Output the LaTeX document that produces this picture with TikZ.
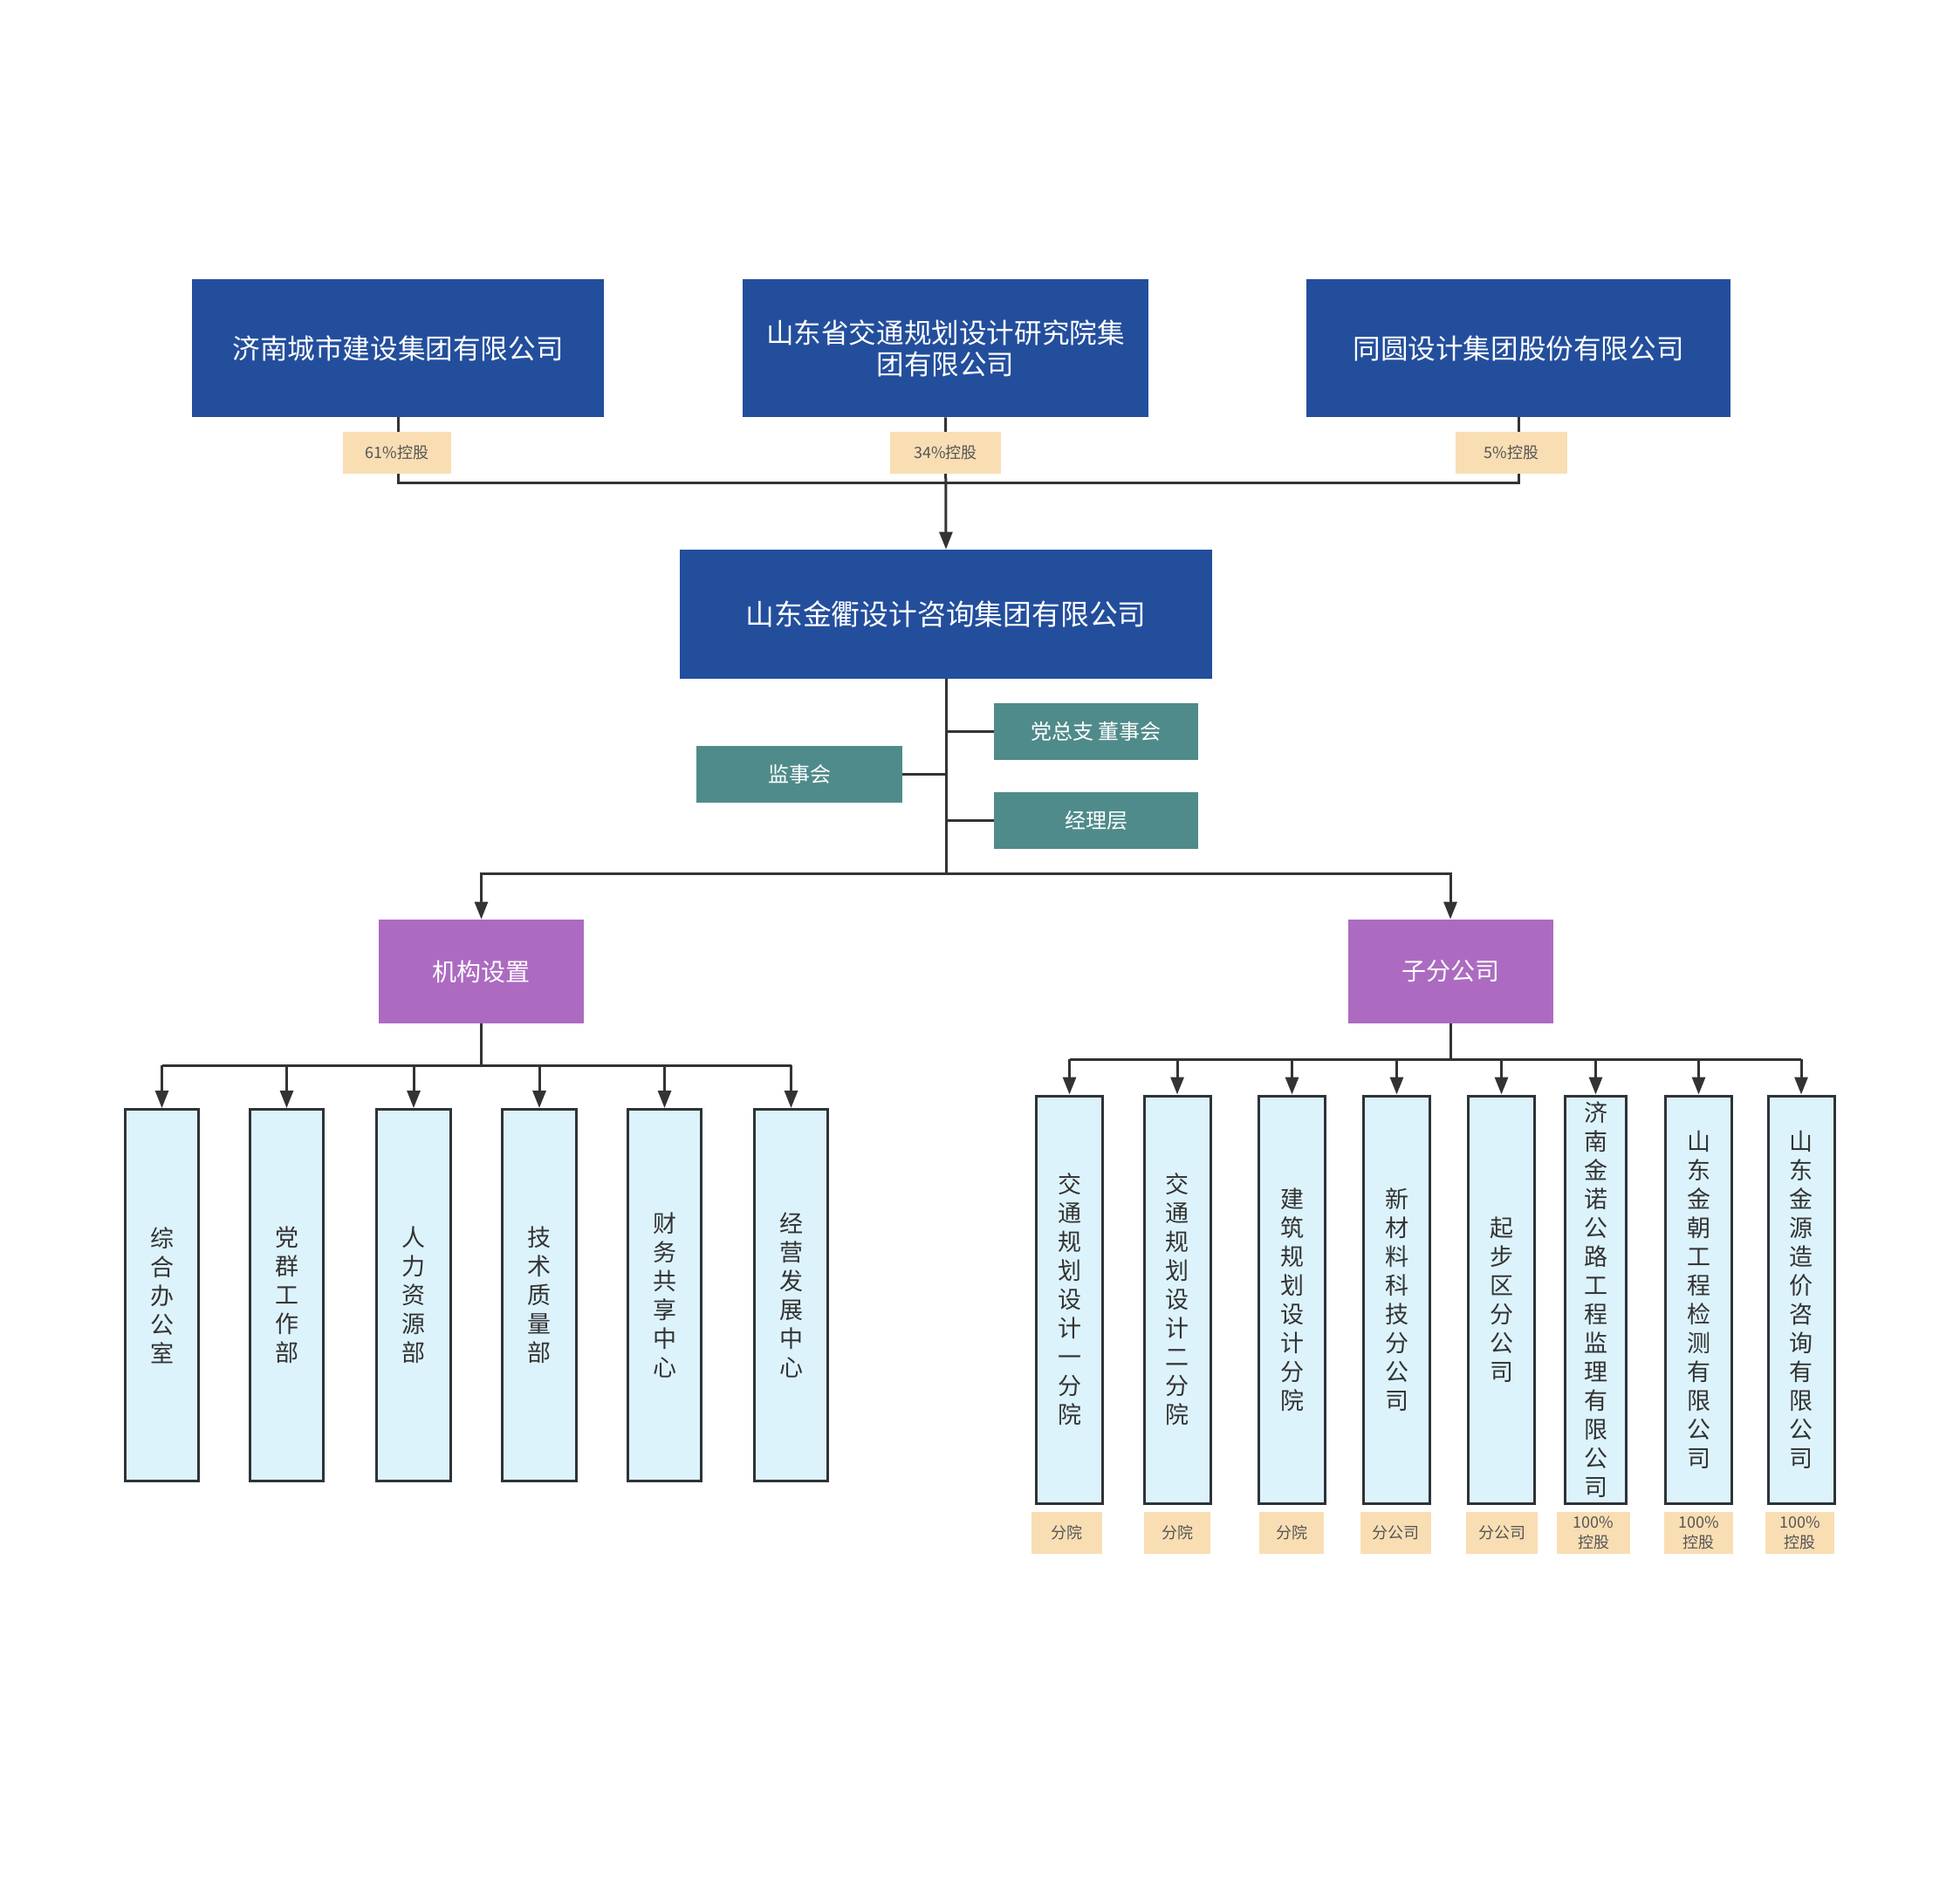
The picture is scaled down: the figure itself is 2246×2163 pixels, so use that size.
\documentclass[tikz,border=0pt]{standalone}
\usepackage{fontspec}
\setmainfont{Noto Sans CJK SC}
\usetikzlibrary{arrows.meta}
\definecolor{hdblue}{HTML}{234E9C}
\definecolor{tealbox}{HTML}{4F8B8A}
\definecolor{purpbox}{HTML}{AC6BC1}
\definecolor{colfill}{HTML}{DDF3FC}
\definecolor{colline}{HTML}{2E3338}
\definecolor{tagfill}{HTML}{F9DEB4}
\definecolor{connline}{HTML}{333333}
\definecolor{tagtext}{HTML}{555555}
\begin{document}
\begin{tikzpicture}[x=0.5pt,y=-0.5pt,
  topbox/.style={fill=hdblue, text=white, inner sep=0pt, align=center, minimum height=79pt, font=\fontsize{15.8pt}{18pt}\selectfont},
  tealnode/.style={fill=tealbox, text=white, inner sep=0pt, minimum width=117pt, minimum height=32.5pt, font=\fontsize{12pt}{14pt}\selectfont},
  purpnode/.style={fill=purpbox, text=white, inner sep=0pt, minimum width=117.5pt, minimum height=59.5pt, font=\fontsize{14pt}{16pt}\selectfont},
  colbox/.style={fill=colfill, draw=colline, line width=1.5pt, inner sep=0pt, align=center, text=connline, font=\fontsize{13.5pt}{16.5pt}\selectfont},
  tag/.style={fill=tagfill, text=tagtext, inner sep=0pt, align=center, minimum height=24pt, font=\fontsize{9pt}{11.8pt}\selectfont},
  conn/.style={draw=connline, line width=1.5pt},
  arr/.style={-{Triangle[length=10pt,width=7.5pt]}}
]
\useasboundingbox (0,0) rectangle (2246,2163);

% top shareholders
\node[topbox, minimum width=236pt] (b1) at (456,399) {济南城市建设集团有限公司};
\node[topbox, minimum width=232.5pt] (b2) at (1083.5,399) {山东省交通规划设计研究院集\\团有限公司};
\node[topbox, minimum width=243pt] (b3) at (1740,399) {同圆设计集团股份有限公司};

% main company
\node[topbox, minimum width=305pt, minimum height=74pt, font=\fontsize{16.4pt}{18pt}\selectfont] (main) at (1084,704) {山东金衢设计咨询集团有限公司};

\coordinate (busT) at (1083.5,553);
\draw[conn] (b1.south) |- (busT);
\draw[conn] (b3.south) |- (busT);
\draw[conn, arr] (b2.south) -- (main.north);

\node[tag, minimum width=62pt] (l1) at (455,518.5) {61\%控股};
\node[tag, minimum width=63.5pt] (l2) at (1083.5,518.5) {34\%控股};
\node[tag, minimum width=64pt] (l3) at (1732,518.5) {5\%控股};

% governance
\node[tealnode] (t1) at (1256,838) {党总支 董事会};
\node[tealnode] (t2) at (1256,940.5) {经理层};
\node[tealnode, minimum width=118pt] (t3) at (916,887.5) {监事会};

\coordinate (busM) at (1084,1001);
\draw[conn] (main.south) -- (busM);
\draw[conn] (main.south |- t1.west) -- (t1.west);
\draw[conn] (main.south |- t2.west) -- (t2.west);
\draw[conn] (main.south |- t3.east) -- (t3.east);

% second level
\node[purpnode] (p1) at (551.5,1113.5) {机构设置};
\node[purpnode] (p2) at (1662,1113.5) {子分公司};
\draw[conn, arr] (busM) -| (p1.north);
\draw[conn, arr] (busM) -| (p2.north);

% departments
\begin{scope}[every node/.style={colbox, minimum width=42.3pt, minimum height=213pt}]
\node (c1) at (185.5,1484.5) {综\\合\\办\\公\\室};
\node (c2) at (328.5,1484.5) {党\\群\\工\\作\\部};
\node (c3) at (474,1484.5) {人\\力\\资\\源\\部};
\node (c4) at (618,1484.5) {技\\术\\质\\量\\部};
\node (c5) at (761.5,1484.5) {财\\务\\共\\享\\中\\心};
\node (c6) at (906.5,1484.5) {经\\营\\发\\展\\中\\心};
\end{scope}
\coordinate (busL) at (551.5,1221);
\draw[conn] (p1.south) -- (busL);
\draw[conn] (c1.north |- busL) -- (c6.north |- busL);
\foreach \c in {c1,c2,c3,c4,c5,c6}
  \draw[conn, arr] (\c.north |- busL) -- (\c.north);

% subsidiaries
\begin{scope}[every node/.style={colbox, minimum width=38pt, minimum height=233.5pt}]
\node (s1) at (1225.5,1489.5) {交\\通\\规\\划\\设\\计\\一\\分\\院};
\node (s2) at (1349,1489.5) {交\\通\\规\\划\\设\\计\\二\\分\\院};
\node (s3) at (1480.5,1489.5) {建\\筑\\规\\划\\设\\计\\分\\院};
\node (s4) at (1600.5,1489.5) {新\\材\\料\\科\\技\\分\\公\\司};
\node (s5) at (1720.5,1489.5) {起\\步\\区\\分\\公\\司};
\node[minimum width=35pt] (s6) at (1828.5,1489.5) {济\\南\\金\\诺\\公\\路\\工\\程\\监\\理\\有\\限\\公\\司};
\node (s7) at (1946.5,1489.5) {山\\东\\金\\朝\\工\\程\\检\\测\\有\\限\\公\\司};
\node (s8) at (2064,1489.5) {山\\东\\金\\源\\造\\价\\咨\\询\\有\\限\\公\\司};
\end{scope}
\coordinate (busR) at (1662,1214);
\draw[conn] (p2.south) -- (busR);
\draw[conn] (s1.north |- busR) -- (s8.north |- busR);
\foreach \c in {s1,s2,s3,s4,s5,s6,s7,s8}
  \draw[conn, arr] (\c.north |- busR) -- (\c.north);

% tags under subsidiaries
\node[tag, minimum width=40.5pt] (g1) at (1222.5,1757) {分院};
\node[tag, minimum width=38pt] (g2) at (1349,1757) {分院};
\node[tag, minimum width=37pt] (g3) at (1480,1757) {分院};
\node[tag, minimum width=40.5pt] (g4) at (1599.5,1757) {分公司};
\node[tag, minimum width=41pt] (g5) at (1721,1757) {分公司};
\node[tag, minimum width=42pt] (g6) at (1826,1757) {100\%\\控股};
\node[tag, minimum width=39.5pt] (g7) at (1946.5,1757) {100\%\\控股};
\node[tag, minimum width=39.5pt] (g8) at (2062.5,1757) {100\%\\控股};
\end{tikzpicture}
\end{document}
